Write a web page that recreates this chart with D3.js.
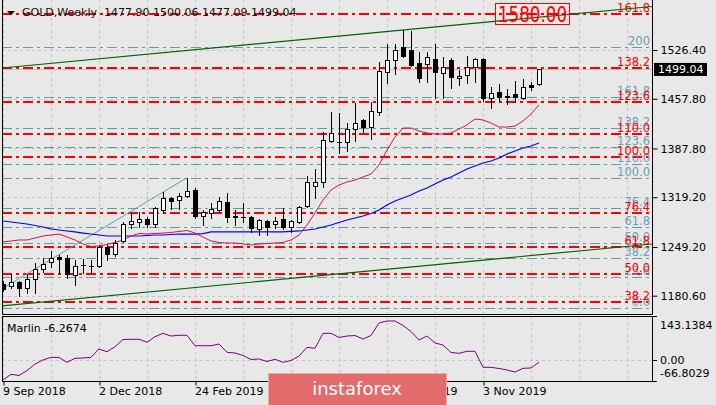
<!DOCTYPE html>
<html><head><meta charset="utf-8">
<script src="https://cdn.jsdelivr.net/npm/d3@7"></script>
<style>
html,body{margin:0;padding:0;background:#e8e8e8;}
svg{display:block;}
text{font-family:"DejaVu Sans",sans-serif;}
</style></head>
<body>
<svg id="c" width="716" height="405"></svg>
<script>
// ---------------- DATA ----------------
const title = "GOLD,Weekly  1477.90 1500.06 1477.09 1499.04";
const dateLabels = ["9 Sep 2018","2 Dec 2018","24 Feb 2019","19 May 2019","11 Aug 2019","3 Nov 2019"];
const dateTickBars = [0,12,24,36,48,60];
const priceTicks = [1526.40,1457.80,1387.80,1319.20,1249.20,1180.60];
const lastPrice = 1499.04;

const open  = [1197.1,1194.3,1199.9,1191.5,1204.1,1218.2,1228.0,1235.1,1233.7,1209.7,1223.8,1222.4,1222.4,1249.1,1239.3,1257.6,1281.5,1284.3,1288.5,1281.5,1301.2,1318.1,1315.3,1320.9,1329.4,1292.8,1297.0,1301.2,1312.5,1292.2,1291.2,1291.4,1274.5,1285.7,1281.5,1288.5,1277.3,1284.3,1306.9,1335.0,1340.6,1398.3,1397.5,1396.9,1415.2,1427.9,1418.0,1439.1,1495.4,1512.3,1530.6,1526.4,1508.1,1506.7,1513.7,1494.0,1512.3,1487.0,1491.2,1502.5,1513.7,1458.8,1467.3,1460.2,1464.5,1458.8,1477.1,1477.90];
const high  = [1201.5,1211.0,1201.5,1209.7,1226.6,1233.7,1243.5,1237.9,1237.9,1230.9,1232.3,1230.9,1252.0,1252.0,1259.0,1284.3,1297.0,1298.4,1291.4,1305.4,1326.6,1319.5,1325.2,1346.6,1332.2,1301.2,1311.1,1319.5,1325.2,1301.2,1311.1,1292.8,1288.5,1287.1,1291.4,1304.0,1287.1,1306.9,1349.0,1358.9,1411.0,1439.1,1437.7,1423.7,1451.8,1429.0,1453.2,1509.5,1534.8,1534.8,1555.0,1553.0,1523.6,1523.6,1534.8,1516.6,1515.1,1498.3,1518.0,1515.1,1514.5,1474.3,1478.5,1471.5,1482.8,1485.6,1481.4,1500.06];
const low   = [1187.0,1191.5,1180.2,1184.4,1184.4,1214.0,1221.0,1212.6,1205.5,1195.7,1212.6,1212.6,1221.0,1230.9,1236.5,1256.2,1275.9,1277.3,1277.3,1277.3,1297.0,1302.6,1302.6,1319.5,1290.0,1280.1,1290.0,1298.4,1284.3,1280.1,1284.3,1270.3,1266.0,1266.0,1275.9,1274.5,1270.3,1282.9,1305.4,1318.1,1333.6,1396.9,1381.4,1384.3,1398.3,1411.0,1401.1,1434.9,1480.0,1492.6,1517.0,1504.0,1481.4,1481.4,1458.8,1458.8,1472.9,1477.1,1480.0,1481.4,1454.6,1444.8,1454.6,1450.4,1453.2,1457.4,1470.1,1477.09];
const close = [1190.0,1199.9,1191.5,1204.1,1218.2,1225.2,1233.7,1232.3,1211.1,1222.4,1223.2,1223.0,1249.1,1239.3,1254.8,1281.5,1285.7,1288.5,1281.5,1304.0,1318.1,1313.9,1320.9,1328.0,1292.8,1298.4,1302.6,1313.9,1291.4,1291.0,1291.8,1275.9,1287.1,1277.3,1285.7,1277.3,1285.7,1305.4,1340.6,1340.6,1399.7,1409.6,1396.9,1415.2,1423.7,1418.0,1440.5,1496.8,1512.3,1526.4,1518.0,1505.3,1487.0,1516.6,1495.4,1502.5,1488.4,1489.8,1502.5,1513.7,1458.8,1465.9,1460.2,1461.8,1460.2,1474.3,1474.3,1499.04];

const maRed  = [1256.2,1257.6,1259.0,1259.0,1261.8,1264.6,1266.0,1267.4,1263.2,1259.0,1253.4,1249.8,1250.6,1252.7,1255.5,1259.0,1264.6,1268.2,1267.4,1268.2,1268.8,1269.6,1271.0,1272.4,1268.8,1263.2,1257.6,1255.5,1254.8,1254.8,1253.4,1252.0,1253.4,1254.1,1254.8,1255.5,1259.0,1266.0,1280.1,1297.0,1315.3,1329.4,1336.4,1340.6,1343.4,1347.7,1351.9,1364.6,1385.7,1403.9,1416.6,1416.6,1412.4,1409.6,1408.2,1408.2,1409.6,1415.2,1420.9,1429.3,1427.9,1423.7,1418.0,1418.0,1419.4,1426.5,1436.3,1449.0];
const maBlue = [1285.7,1284.3,1282.9,1281.5,1279.4,1277.3,1274.5,1273.1,1271.7,1270.3,1268.8,1267.4,1266.0,1264.6,1264.6,1264.6,1264.6,1264.6,1265.3,1266.0,1266.0,1266.7,1267.4,1267.4,1267.4,1268.1,1270.3,1270.3,1270.3,1270.3,1270.3,1270.3,1270.3,1270.3,1270.3,1270.3,1271.0,1271.7,1273.1,1274.5,1277.3,1280.1,1283.6,1287.1,1289.9,1292.8,1296.3,1301.2,1308.3,1313.9,1318.1,1322.3,1328.0,1332.2,1337.8,1343.4,1347.7,1353.3,1358.9,1363.1,1367.4,1370.2,1374.4,1380.0,1384.3,1388.5,1391.3,1395.5];

const marlin = [-63.6,-45.2,-49.0,-32.9,-11.9,1.0,9.8,9.1,-6.4,6.5,7.5,9.8,36.6,27.8,44.0,67.2,67.9,67.9,58.2,76.3,87.2,78.5,80.8,80.8,47.2,47.2,47.2,52.7,25.9,23.6,15.6,2.6,4.3,-3.8,3.3,-6.4,-0.6,13.9,42.0,38.8,87.2,87.2,73.7,78.5,80.1,68.8,80.1,120.5,127.0,127.0,112.5,93.1,65.6,78.5,55.9,49.5,25.2,22.7,29.1,29.1,-22.6,-22.6,-26.4,-31.3,-37.7,-25.8,-24.8,-6.2674];
const marlinMax = 143.1384, marlinMin = -66.8029;

// Fibonacci grids
const redFibLabels = ["38.2","50.0","61.8","76.4","100.0","110.0","123.6","138.2","161.8"];
const redFibPrices = [1171.9,1210.7,1249.5,1297.6,1375.2,1408.1,1452.8,1500.9,1577.5];
const tealFibLabels = ["0.0","23.6","38.2","50.0","61.8","76.4","100.0","110.0","123.6","138.2","161.8","200"];
const tealFibPrices = [1163.3,1206.6,1233.4,1255.1,1276.8,1303.6,1346.9,1365.3,1390.2,1417.0,1460.4,1530.5];

// trend lines: [barIndex, price]
const channelUpper = [[0,1501.2],[67,1572.6]];
const channelLower = [[0,1166.3],[67,1238.2]];
const tealTrend = [[-0.375,1188.6],[23,1346.6]];
const target = "1580.00";

// ---------------- LAYOUT ----------------
const L=2, R=652, T=0, B=314, IT=316, IB=381;
const svg = d3.select("#c");
const x = d3.scaleLinear().domain([0,67]).range([3,539]);
const y = d3.scaleLinear().domain([1180.6,1526.4]).range([295.7,50]);
const yi = d3.scaleLinear().domain([marlinMin,marlinMax]).range([IB,IT]);
const px = v => Math.round(v)+0.5;

svg.append("rect").attr("width",716).attr("height",405).attr("fill","#e8e8e8");
const defs = svg.append("defs");
defs.append("clipPath").attr("id","cm").append("rect").attr("x",L).attr("y",T).attr("width",R-L).attr("height",B-T);
defs.append("clipPath").attr("id","ci").append("rect").attr("x",L).attr("y",IT).attr("width",R-L).attr("height",IB-IT);

const main = svg.append("g").attr("clip-path","url(#cm)");
const ind = svg.append("g").attr("clip-path","url(#ci)");

// grid
const gridBars = d3.range(0,79,6);
[main,ind].forEach((g,k)=>{
  g.selectAll(null).data(gridBars).enter().append("line")
   .attr("x1",d=>px(x(d))).attr("x2",d=>px(x(d)))
   .attr("y1",k?IT:T).attr("y2",k?IB:B)
   .attr("stroke","#c4c4c4").attr("stroke-dasharray","3,3");
});
main.selectAll(null).data(priceTicks).enter().append("line")
  .attr("x1",L).attr("x2",R).attr("y1",d=>px(y(d))).attr("y2",d=>px(y(d)))
  .attr("stroke","#c4c4c4").attr("stroke-dasharray","3,3");
ind.append("line").attr("x1",L).attr("x2",R).attr("y1",px(yi(0))).attr("y2",px(yi(0)))
  .attr("stroke","#c4c4c4").attr("stroke-dasharray","3,3");

// fib lines
main.selectAll(null).data(tealFibPrices).enter().append("line")
  .attr("x1",L).attr("x2",R).attr("y1",d=>px(y(d))).attr("y2",d=>px(y(d)))
  .attr("stroke","#5f9ea0").attr("stroke-width",1).attr("stroke-dasharray","10,4,3,4");
main.selectAll(null).data(redFibPrices).enter().append("line")
  .attr("x1",L).attr("x2",R).attr("y1",d=>Math.round(y(d))).attr("y2",d=>Math.round(y(d)))
  .attr("stroke","#ff0000").attr("stroke-width",2).attr("stroke-dasharray","10,4,3,4");

// fib labels
main.selectAll(null).data(tealFibPrices).enter().append("text")
  .attr("x",650).attr("y",d=>y(d)-2).attr("text-anchor","end")
  .attr("font-size",11.5).attr("fill","#6b9fb4").text((d,i)=>tealFibLabels[i]);
main.selectAll(null).data(redFibPrices).enter().append("text")
  .attr("x",650).attr("y",d=>y(d)-2).attr("text-anchor","end")
  .attr("font-size",11.5).attr("fill","#ff0000").text((d,i)=>redFibLabels[i]);

// price line
main.append("line").attr("x1",L).attr("x2",R).attr("y1",px(y(lastPrice))).attr("y2",px(y(lastPrice)))
  .attr("stroke","#c0c0c0");

// trend lines extended to panel edges
function ray(a){
  const i0=x.invert(L), i1=x.invert(R);
  const s=(a[1][1]-a[0][1])/(a[1][0]-a[0][0]);
  return [[i0,a[0][1]+s*(i0-a[0][0])],[i1,a[0][1]+s*(i1-a[0][0])]];
}
const ln = d3.line().x(d=>x(d[0])).y(d=>y(d[1]));
main.append("path").attr("d",ln(ray(channelUpper))).attr("fill","none").attr("stroke","#006400").attr("stroke-width",1.2);
main.append("path").attr("d",ln(ray(channelLower))).attr("fill","none").attr("stroke","#006400").attr("stroke-width",1.2);
main.append("path").attr("d",ln(tealTrend)).attr("fill","none").attr("stroke","#5f9ea0").attr("stroke-width",1);

// moving averages
const lnIdx = arr => d3.line().x((d,i)=>x(i)).y(d=>y(d))(arr);
main.append("path").attr("d",lnIdx(maBlue)).attr("fill","none").attr("stroke","#0000ff").attr("stroke-width",1.2);
main.append("path").attr("d",lnIdx(maRed)).attr("fill","none").attr("stroke","#dc143c").attr("stroke-width",1);

// candles
const bars = open.map((o,i)=>({i,o,h:high[i],l:low[i],c:close[i]}));
const cg = main.append("g");
bars.forEach(b=>{
  const cx = Math.round(x(b.i));
  cg.append("line").attr("x1",cx+0.5).attr("x2",cx+0.5).attr("y1",Math.round(y(b.h))).attr("y2",Math.round(y(b.l))+1)
    .attr("stroke","#000");
  const top = Math.round(y(Math.max(b.o,b.c))), bot = Math.round(y(Math.min(b.o,b.c)));
  if (bot-top < 2) {
    cg.append("rect").attr("x",cx-2).attr("y",top).attr("width",5).attr("height",Math.max(1,bot-top+1)).attr("fill","#000");
  } else if (b.c >= b.o) {
    cg.append("rect").attr("x",cx-1.5).attr("y",top+0.5).attr("width",4).attr("height",bot-top)
      .attr("fill","#ffffff").attr("stroke","#000");
  } else {
    cg.append("rect").attr("x",cx-2).attr("y",top).attr("width",5).attr("height",bot-top+1).attr("fill","#000");
  }
});

// target box
main.append("rect").attr("x",495.5).attr("y",3.5).attr("width",74).attr("height",21)
  .attr("fill","none").attr("stroke","#ff0000");
main.append("text").attr("x",532.5).attr("y",21.5).attr("text-anchor","middle")
  .attr("font-family","Liberation Sans, Arial, sans-serif").attr("font-size",22)
  .attr("textLength",69).attr("lengthAdjust","spacingAndGlyphs")
  .attr("fill","#ff0000").text(target);

// title
svg.append("path").attr("d","M7,11 L15,11 L11,15 Z").attr("fill","#000");
svg.append("text").attr("x",22).attr("y",16).attr("font-size",11).attr("fill","#111")
  .attr("xml:space","preserve").style("white-space","pre").text(title);

// marlin
ind.append("path").attr("d",d3.line().x((d,i)=>x(i)).y(d=>yi(d))(marlin))
  .attr("fill","none").attr("stroke","#800080").attr("stroke-width",1);
svg.append("text").attr("x",7).attr("y",332).attr("font-size",11).attr("fill","#000")
  .text("Marlin " + marlin[marlin.length-1].toFixed(4));

// frames
svg.append("path").attr("d",`M${L+0.5},${T} V${B+0.5} H${R+0.5} V${T}`).attr("fill","none").attr("stroke","#000");
svg.append("rect").attr("x",L+0.5).attr("y",IT+0.5).attr("width",R-L).attr("height",IB-IT).attr("fill","none").attr("stroke","#000");

// right price axis
const ax = d3.axisRight(y).tickValues(priceTicks).tickSize(5).tickPadding(3).tickFormat(d3.format(".2f"));
const gA = svg.append("g").attr("transform",`translate(${R+0.5},0)`).call(ax);
gA.select(".domain").remove();
gA.selectAll("text").attr("font-size",11).attr("font-family","DejaVu Sans").attr("fill","#000");
gA.selectAll("line").attr("stroke","#000");

// last price label
svg.append("rect").attr("x",654).attr("y",y(lastPrice)-6.5).attr("width",53).attr("height",13).attr("fill","#000");
svg.append("text").attr("x",658).attr("y",y(lastPrice)+4).attr("font-size",11).attr("fill","#fff").text(lastPrice.toFixed(2));

// indicator axis labels
const indTicks = [marlinMax,0,marlinMin];
const indOff = [9,0,-8];
svg.selectAll(null).data(indTicks).enter().append("line")
  .attr("x1",R).attr("x2",R+5).attr("y1",d=>px(yi(d))).attr("y2",d=>px(yi(d))).attr("stroke","#000");
svg.selectAll(null).data(indTicks).enter().append("text")
  .attr("x",R+8).attr("y",(d,i)=>yi(d)+indOff[i]+4).attr("font-size",11).attr("fill","#000")
  .text(d=>d===0?"0.00":d.toFixed(4));

// bottom time axis
const bx = d3.axisBottom(x).tickValues(dateTickBars).tickSize(4).tickPadding(2).tickFormat((d,i)=>dateLabels[i]);
const gB = svg.append("g").attr("transform",`translate(0.5,${IB+0.5})`).call(bx);
gB.select(".domain").remove();
gB.selectAll("text").attr("font-size",11).attr("font-family","DejaVu Sans").attr("fill","#000")
  .attr("text-anchor","start").attr("dx",-1);
gB.selectAll("line").attr("stroke","#000");

// watermark
svg.append("rect").attr("x",268.5).attr("y",373.5).attr("width",178).attr("height",33)
  .attr("fill","#e36b6b").attr("stroke","#f2a9a9");
svg.append("text").attr("x",357).attr("y",395).attr("text-anchor","middle")
  .attr("font-family","Open Sans, sans-serif").attr("font-size",18).attr("fill","#ffffff").text("instaforex");
</script>
</body></html>
